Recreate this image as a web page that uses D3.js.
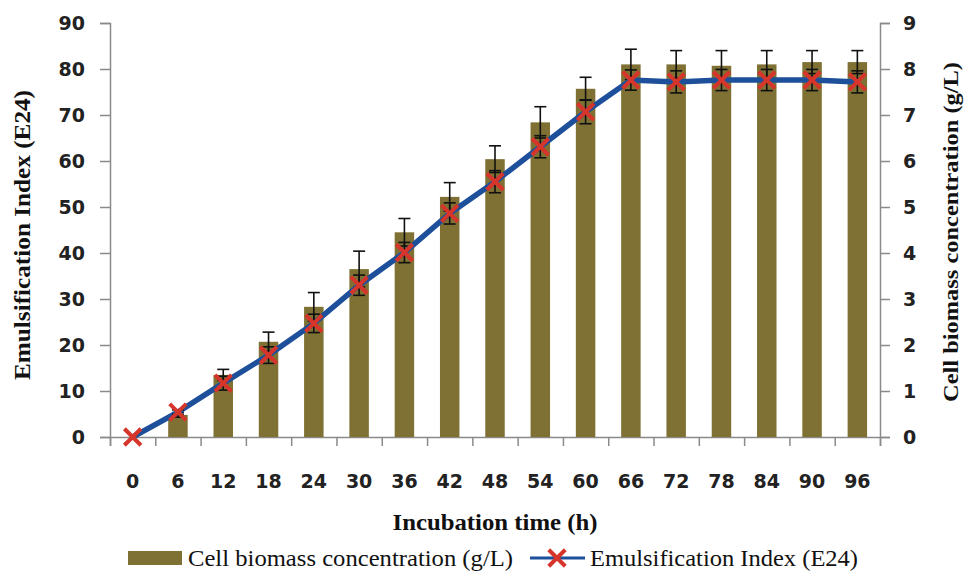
<!DOCTYPE html>
<html>
<head>
<meta charset="utf-8">
<script src="https://cdn.jsdelivr.net/npm/d3@7"></script>
<style>
  body { margin: 0; background: #fff; }
  .tick text { font-family: "DejaVu Sans", "Open Sans", sans-serif; font-weight: bold; font-size: 19px; fill: #222; }
  .axisTitle { font-family: "Liberation Serif", "Times New Roman", serif; font-weight: bold; fill: #111; }
  .legendText { font-family: "Liberation Serif", "Times New Roman", serif; font-size: 23px; fill: #111; }
</style>
</head>
<body>
<div id="chart"></div>
<script>
// incubation time (h)
var hours = ["0", "6", "12", "18", "24", "30", "36", "42", "48", "54", "60", "66", "72", "78", "84", "90", "96"];
// cell biomass concentration (g/L), right axis
var biomass = [0, 0.48, 1.35, 2.07, 2.83, 3.65, 4.45, 5.22, 6.04, 6.84, 7.57, 8.10, 8.10, 8.07, 8.10, 8.15, 8.15];
var biomassErr = [0, 0.05, 0.12, 0.21, 0.31, 0.39, 0.30, 0.31, 0.29, 0.34, 0.25, 0.33, 0.30, 0.33, 0.30, 0.25, 0.25];
// emulsification index E24, left axis
var e24 = [0, 5.4, 11.7, 17.8, 24.7, 33.0, 40.1, 48.6, 55.5, 63.1, 70.7, 77.6, 77.2, 77.6, 77.6, 77.6, 77.2];
var e24Err = [0, 0.5, 1.5, 1.8, 2.0, 2.2, 2.2, 2.3, 2.4, 2.4, 2.6, 2.2, 2.4, 2.3, 2.3, 2.3, 2.4];
var leftTicks = [0, 10, 20, 30, 40, 50, 60, 70, 80, 90];
var rightTicks = [0, 1, 2, 3, 4, 5, 6, 7, 8, 9];

var svgWidth = 965;
var svgHeight = 571;
var margin = { top: 23, right: 85, bottom: 134, left: 110 };
var width = svgWidth - margin.left - margin.right;
var height = svgHeight - margin.top - margin.bottom;

var barColor = "#7e7133";
var lineColor = "#1d4f9b";
var markColor = "#d6352b";
var axisColor = "#8a8a8a";

var svg = d3.select("#chart")
  .append("svg")
  .attr("width", svgWidth)
  .attr("height", svgHeight);

var chartGroup = svg.append("g")
  .attr("transform", `translate(${margin.left}, ${margin.top})`);

var xScale = d3.scaleBand()
  .domain(hours)
  .range([0, width]);

var yLeft = d3.scaleLinear().domain([0, 90]).range([height, 0]);
var yRight = d3.scaleLinear().domain([0, 9]).range([height, 0]);

// axes
var leftAxis = d3.axisLeft(yLeft).tickValues(leftTicks).tickSize(10).tickPadding(15);
var rightAxis = d3.axisRight(yRight).tickValues(rightTicks).tickSize(10).tickPadding(13);
var bottomAxis = d3.axisBottom(xScale).tickSize(0).tickPadding(38);
var boundaryAxis = d3.axisBottom(d3.scaleLinear().domain([0, hours.length]).range([0, width]))
  .ticks(hours.length).tickFormat("").tickSize(9);

function styleAxis(g) {
  g.select(".domain").attr("stroke", axisColor).attr("stroke-width", 1.5);
  g.selectAll(".tick line").attr("stroke", axisColor).attr("stroke-width", 1.5);
}

chartGroup.append("g").call(leftAxis).call(styleAxis);
chartGroup.append("g").attr("transform", `translate(${width}, 0)`).call(rightAxis).call(styleAxis);
chartGroup.append("g").attr("transform", `translate(0, ${height})`).call(bottomAxis)
  .call(g => g.select(".domain").remove());
chartGroup.append("g").attr("transform", `translate(0, ${height})`).call(boundaryAxis).call(styleAxis);

// bars
var barW = xScale.bandwidth() * 0.43;
chartGroup.selectAll(".bar")
  .data(hours)
  .enter()
  .append("rect")
  .attr("class", "bar")
  .attr("x", (d, i) => xScale(d) + xScale.bandwidth() / 2 - barW / 2)
  .attr("y", (d, i) => yRight(biomass[i]))
  .attr("width", barW)
  .attr("height", (d, i) => height - yRight(biomass[i]))
  .attr("fill", barColor);

// error bars
function errorBars(vals, errs, scale) {
  var g = chartGroup.append("g").attr("stroke", "#111").attr("stroke-width", 1.6);
  hours.forEach(function(h, i) {
    if (errs[i] <= 0) return;
    var cx = xScale(h) + xScale.bandwidth() / 2;
    var y1 = scale(vals[i] + errs[i]);
    var y2 = scale(vals[i] - errs[i]);
    g.append("line").attr("x1", cx).attr("x2", cx).attr("y1", y1).attr("y2", y2);
    g.append("line").attr("x1", cx - 6).attr("x2", cx + 6).attr("y1", y1).attr("y2", y1);
    g.append("line").attr("x1", cx - 6).attr("x2", cx + 6).attr("y1", y2).attr("y2", y2);
  });
}
errorBars(biomass, biomassErr, yRight);

// E24 line
var line = d3.line()
  .x((d, i) => xScale(hours[i]) + xScale.bandwidth() / 2)
  .y(d => yLeft(d));

chartGroup.append("path")
  .datum(e24)
  .attr("d", line)
  .attr("fill", "none")
  .attr("stroke", lineColor)
  .attr("stroke-width", 5.5);

errorBars(e24, e24Err, yLeft);

var cross = d3.symbol().type(d3.symbolX).size(180);
chartGroup.selectAll(".mark")
  .data(e24)
  .enter()
  .append("path")
  .attr("class", "mark")
  .attr("d", cross)
  .attr("transform", (d, i) => `translate(${xScale(hours[i]) + xScale.bandwidth() / 2}, ${yLeft(d)})`)
  .attr("fill", "none")
  .attr("stroke", markColor)
  .attr("stroke-width", 4);

// axis titles
chartGroup.append("text")
  .attr("class", "axisTitle")
  .attr("transform", `translate(${-margin.left + 30}, ${235 - margin.top}) rotate(-90)`)
  .style("text-anchor", "middle")
  .style("font-size", "23px")
  .attr("textLength", 290)
  .attr("lengthAdjust", "spacingAndGlyphs")
  .text("Emulsification Index (E24)");

chartGroup.append("text")
  .attr("class", "axisTitle")
  .attr("transform", `translate(${width + 78}, ${232 - margin.top}) rotate(-90)`)
  .style("text-anchor", "middle")
  .style("font-size", "21px")
  .attr("textLength", 340)
  .attr("lengthAdjust", "spacingAndGlyphs")
  .text("Cell biomass concentration (g/L)");

chartGroup.append("text")
  .attr("class", "axisTitle")
  .attr("x", width / 2)
  .attr("y", 530 - margin.top)
  .style("text-anchor", "middle")
  .style("font-size", "24px")
  .attr("textLength", 205)
  .attr("lengthAdjust", "spacingAndGlyphs")
  .text("Incubation time (h)");

// legend
var legend = svg.append("g").attr("transform", "translate(0, 558)");
legend.append("rect")
  .attr("x", 128).attr("y", -7).attr("width", 54).attr("height", 14)
  .attr("fill", barColor);
legend.append("text")
  .attr("class", "legendText")
  .attr("x", 188).attr("y", 8)
  .attr("textLength", 325)
  .attr("lengthAdjust", "spacingAndGlyphs")
  .text("Cell biomass concentration  (g/L)");
legend.append("line")
  .attr("x1", 530).attr("x2", 585).attr("y1", 0).attr("y2", 0)
  .attr("stroke", lineColor).attr("stroke-width", 3);
legend.append("path")
  .attr("d", cross)
  .attr("transform", "translate(557, 0)")
  .attr("fill", "none")
  .attr("stroke", markColor)
  .attr("stroke-width", 4);
legend.append("text")
  .attr("class", "legendText")
  .attr("x", 590).attr("y", 8)
  .attr("textLength", 268)
  .attr("lengthAdjust", "spacingAndGlyphs")
  .text("Emulsification  Index (E24)");
</script>
</body>
</html>
